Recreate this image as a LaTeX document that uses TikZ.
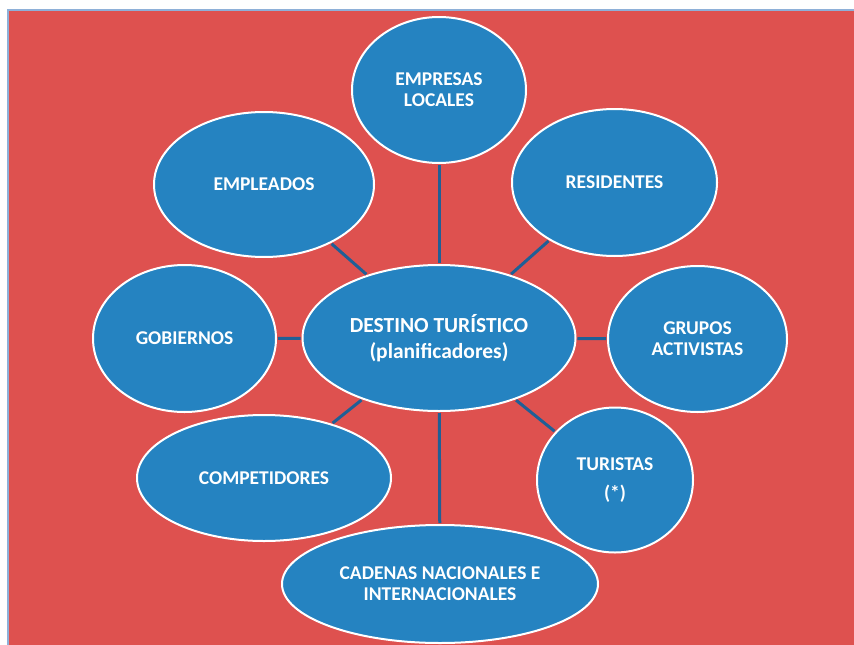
\documentclass[tikz,border=0pt]{standalone}
\usepackage{fontspec}
\setmainfont{Carlito}[BoldFont={Carlito Bold}]
\usetikzlibrary{shapes.geometric}
\definecolor{bgred}{RGB}{222,81,79}
\definecolor{nodeblue}{RGB}{37,131,193}
\definecolor{linkblue}{RGB}{31,95,150}
\definecolor{frameblue}{RGB}{142,176,216}
\begin{document}
\begin{tikzpicture}[x=1pt,y=-1pt,
  bubble/.style={ellipse, draw=white, line width=2pt, fill=nodeblue, inner sep=0pt,
    text=white, align=center, font=\fontsize{19.5}{21}\selectfont\bfseries},
  link/.style={draw=linkblue, line width=3pt}]
\useasboundingbox (0,0) rectangle (854,645);
\fill[bgred] (8,10) rectangle (854,645);
\draw[frameblue, line width=1.5pt] (8,645) -- (8,10) -- (854,10);

\node[bubble, minimum width=273pt, minimum height=146pt,
      font=\fontsize{21.5}{26}\selectfont\bfseries] (c) at (439,338) {DESTINO TURÍSTICO\\(planificadores)};
\node[bubble, minimum width=174pt, minimum height=146pt] (emp) at (439,90) {EMPRESAS\\LOCALES};
\node[bubble, minimum width=220pt, minimum height=145pt] (empl) at (264,184.5) {EMPLEADOS};
\node[bubble, minimum width=205pt, minimum height=147pt] (res) at (614.5,182.5) {RESIDENTES};
\node[bubble, minimum width=183pt, minimum height=147pt] (gob) at (184.5,338.5) {GOBIERNOS};
\node[bubble, minimum width=179pt, minimum height=146pt] (gru) at (697.5,339) {GRUPOS\\ACTIVISTAS};
\node[bubble, minimum width=254pt, minimum height=126pt] (comp) at (264,478) {COMPETIDORES};
\node[bubble, minimum width=156pt, minimum height=145pt, font=\fontsize{19.5}{29}\selectfont\bfseries] (tur) at (615,480) {TURISTAS\\(*)};
\node[bubble, minimum width=316pt, minimum height=118pt] (cad) at (440,584) {CADENAS NACIONALES E\\INTERNACIONALES};

\foreach \n in {emp,empl,res,gob,gru,comp,tur,cad}
  \draw[link, shorten <=1pt, shorten >=1pt] (c) -- (\n);
\end{tikzpicture}
\end{document}
